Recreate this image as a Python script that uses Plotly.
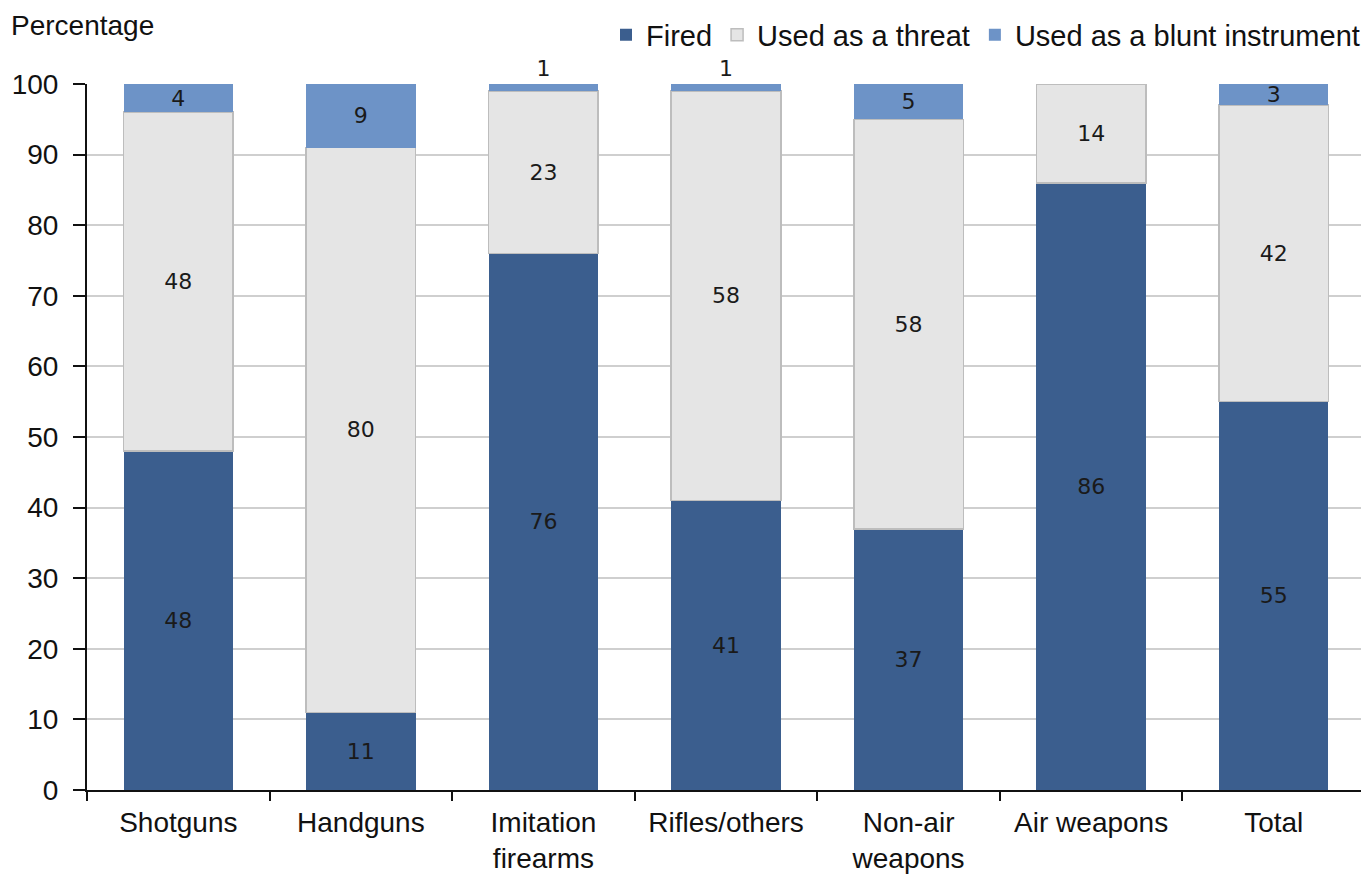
import plotly.graph_objects as go

categories = ["Shotguns", "Handguns", "Imitation<br>firearms", "Rifles/others",
              "Non-air<br>weapons", "Air weapons", "Total"]
fired = [48, 11, 76, 41, 37, 86, 55]
threat = [48, 80, 23, 58, 58, 14, 42]
blunt = [4, 9, 1, 1, 5, 0, 3]
y_ticks = list(range(0, 101, 10))

AX_FONT = dict(family="Liberation Sans, Arial, sans-serif", size=28, color="#111111")
LEG_FONT = dict(family="Liberation Sans, Arial, sans-serif", size=29, color="#111111")
LBL_FONT = dict(family="DejaVu Sans, Verdana, sans-serif", size=22, color="#1a1a1a")


def labels(vals):
    return [str(v) if v > 0 else "" for v in vals]


def positions(vals):
    return ["outside" if v <= 2 else "inside" for v in vals]


fig = go.Figure()
fig.add_trace(go.Bar(
    name="Fired", x=categories, y=fired, text=labels(fired),
    textposition="inside", insidetextanchor="middle",
    marker=dict(color="#3B5E8E", line=dict(width=0)),
    textfont=LBL_FONT, insidetextfont=LBL_FONT, outsidetextfont=LBL_FONT,
    constraintext="none", textangle=0, cliponaxis=False,
))
fig.add_trace(go.Bar(
    name="Used as a threat", x=categories, y=threat, text=labels(threat),
    textposition="inside", insidetextanchor="middle",
    marker=dict(color="#E5E5E5", line=dict(width=1.5, color="#BDBDBD")),
    textfont=LBL_FONT, insidetextfont=LBL_FONT, outsidetextfont=LBL_FONT,
    constraintext="none", textangle=0, cliponaxis=False,
))
fig.add_trace(go.Bar(
    name="Used as a blunt instrument", x=categories, y=blunt, text=labels(blunt),
    textposition=positions(blunt), insidetextanchor="middle",
    marker=dict(color="#6D93C7", line=dict(width=0)),
    textfont=LBL_FONT, insidetextfont=LBL_FONT, outsidetextfont=LBL_FONT,
    constraintext="none", textangle=0, cliponaxis=False,
))

# page body has an 8px margin; figure is sized/margined to compensate
fig.update_layout(
    barmode="stack",
    bargap=0.4,
    width=1361, height=866,
    margin=dict(l=79, r=4, t=76, b=84, autoexpand=False),
    paper_bgcolor="white", plot_bgcolor="white",
    font=AX_FONT,
    uniformtext=dict(minsize=22, mode="show"),
    showlegend=True,
    legend=dict(
        orientation="h", x=1.0, xanchor="right", y=1.0694, yanchor="middle",
        font=LEG_FONT, traceorder="normal", itemwidth=30,
        bgcolor="rgba(0,0,0,0)",
    ),
    xaxis=dict(
        type="category", range=[-0.5, 6.5], automargin=False,
        showline=True, linecolor="#111111", linewidth=2,
        ticks="outside", tickson="boundaries", ticklen=9, tickwidth=2, tickcolor="#111111",
        tickfont=AX_FONT, ticklabelstandoff=6, showgrid=False, zeroline=False,
    ),
    yaxis=dict(
        range=[0, 100], tickvals=y_ticks, ticktext=[str(v) for v in y_ticks],
        automargin=False,
        showline=True, linecolor="#111111", linewidth=2,
        ticks="outside", ticklen=12, tickwidth=2, tickcolor="#111111",
        tickfont=AX_FONT, ticklabelstandoff=9,
        showgrid=True, gridcolor="#CFCFCF", gridwidth=1.5, zeroline=False,
    ),
    annotations=[dict(
        text="Percentage", xref="paper", yref="paper", x=0, y=1,
        xanchor="left", yanchor="middle", xshift=-78, yshift=59,
        showarrow=False, font=AX_FONT,
    )],
)

fig.write_html("out.html")
